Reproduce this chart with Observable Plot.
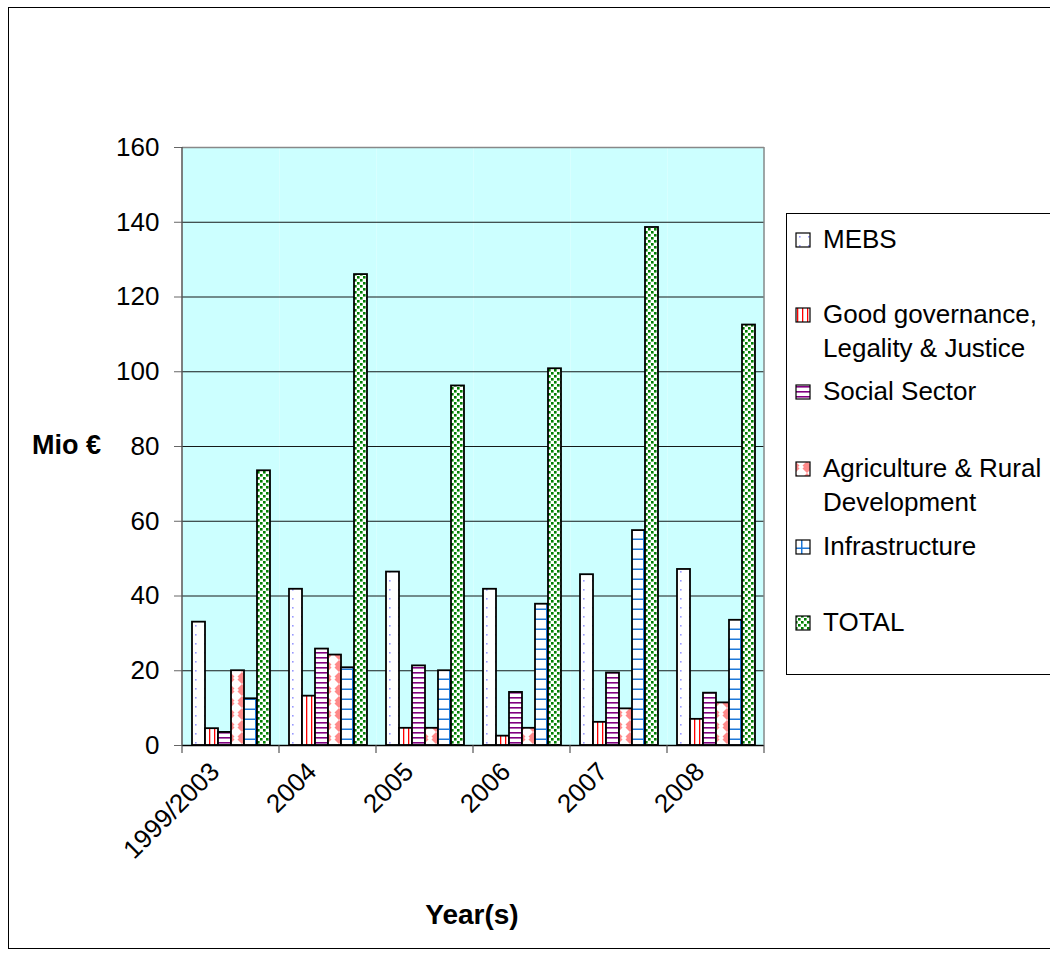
<!DOCTYPE html>
<html>
<head>
<meta charset="utf-8">
<script src="https://cdn.jsdelivr.net/npm/d3@7"></script>
<script src="https://cdn.jsdelivr.net/npm/@observablehq/plot@0.6"></script>
<style>
  html, body { margin: 0; padding: 0; background: #fff; }
  #wrap { position: relative; width: 1050px; height: 958px; overflow: hidden; font-family: "Liberation Sans", Arial, sans-serif; }
  #outer { position: absolute; left: 8px; top: 7px; width: 1100px; height: 942px; border: 1px solid #000; box-sizing: border-box; }
  #chart { position: absolute; left: 0; top: 0; }
  #legend { position: absolute; left: 786px; top: 213px; width: 300px; height: 462px; border: 1px solid #000; box-sizing: border-box; background: #fff; }
  .item { position: absolute; left: 8px; font-size: 26px; line-height: 34px; color: #000; white-space: nowrap; }
  .item svg { position: absolute; left: 0; top: 10px; }
  .item span { display: block; margin-left: 28px; }
  .ylab { position: absolute; left: 32px; top: 430px; font-size: 27px; font-weight: bold; }
  .xlab { position: absolute; left: 372px; width: 200px; text-align: center; top: 899px; font-size: 28px; font-weight: bold; }
</style>
</head>
<body>
<div id="wrap">
  <div id="outer"></div>
  <div id="chart"></div>
  <div id="legend"></div>
  <div class="ylab">Mio €</div>
  <div class="xlab">Year(s)</div>
</div>
<script>
// ---- data ----
const years = ["1999/2003", "2004", "2005", "2006", "2007", "2008"];
const series = ["MEBS", "Good governance, Legality & Justice", "Social Sector", "Agriculture & Rural Development", "Infrastructure", "TOTAL"];
const legendLines = [["MEBS"], ["Good governance,", "Legality & Justice"], ["Social Sector"], ["Agriculture & Rural", "Development"], ["Infrastructure"], ["TOTAL"]];
const mebs    = [33.0, 41.8, 46.4, 41.8, 45.7, 47.1];
const goodGov = [4.5, 13.2, 4.6, 2.5, 6.2, 7.0];
const social  = [3.5, 25.8, 21.3, 14.2, 19.4, 14.0];
const agri    = [20.0, 24.2, 4.6, 4.6, 9.8, 11.4];
const infra   = [12.5, 20.8, 20.0, 37.8, 57.5, 33.5];
const total   = [73.5, 126.0, 96.2, 100.8, 138.6, 112.5];
const yTicks  = [0, 20, 40, 60, 80, 100, 120, 140, 160];
const patternIds = ["p-mebs", "p-gg", "p-soc", "p-agri", "p-infra", "p-total"];

const valuesBySeries = [mebs, goodGov, social, agri, infra, total];
const data = [];
years.forEach((yr, i) => series.forEach((s, j) => data.push({year: yr, series: s, value: valuesBySeries[j][i]})));

const plot = Plot.plot({
  width: 1050,
  height: 958,
  marginLeft: 180,
  marginRight: 284,
  marginTop: 147,
  marginBottom: 213,
  style: {fontFamily: "Liberation Sans, Arial, sans-serif", fontSize: "26px", background: "transparent", overflow: "visible"},
  fx: {domain: years, padding: 0, label: null},
  x: {domain: series, paddingInner: 0, paddingOuter: 0.645, axis: null},
  y: {domain: [0, 160], label: null},
  color: {type: "ordinal", domain: series, range: patternIds.map(id => `url(#${id})`)},
  marks: [
    Plot.frame({fill: "#ccffff", stroke: null}),
    Plot.gridY(yTicks, {stroke: "#000", strokeOpacity: 0.9}),
    Plot.ruleY([160], {stroke: "#888", strokeWidth: 1.5}),
    Plot.barY(data, {fx: "year", x: "series", y: "value", fill: "series", stroke: "#000", strokeWidth: 1.8}),
    Plot.ruleY([0], {stroke: "#000", strokeWidth: 1.5}),
    Plot.axisY({ticks: yTicks, tickSize: 8, tickPadding: 15, fontSize: 26, label: null, stroke: "#666"}),
    Plot.axisFx({anchor: "bottom", tickSize: 0, tickPadding: 0, tickRotate: -45, fontSize: 26, label: null, dx: -16, dy: 22})
  ]
});
document.getElementById("chart").appendChild(plot);

// ---- patterns ----
const svg = d3.select(plot);
const defs = svg.insert("defs", ":first-child");
function pat(id, w, h, draw) {
  const p = defs.append("pattern").attr("id", id).attr("patternUnits", "userSpaceOnUse").attr("width", w).attr("height", h);
  p.append("rect").attr("width", w).attr("height", h).attr("fill", "#fff");
  draw(p);
}
pat("p-mebs", 9, 9, p => p.append("rect").attr("x", 4).attr("y", 4).attr("width", 1.6).attr("height", 1.6).attr("fill", "#9a9aff"));
pat("p-gg", 5, 5, p => p.append("rect").attr("x", 2).attr("y", 0).attr("width", 1.3).attr("height", 5).attr("fill", "#ff0000"));
pat("p-soc", 6, 5, p => p.append("rect").attr("x", 0).attr("y", 2).attr("width", 6).attr("height", 1.6).attr("fill", "#800080"));
pat("p-agri", 12, 12, p => {
  p.append("path").attr("d", "M0,0 L6,6 L0,12 Z M12,0 L6,6 L12,12 Z").attr("fill", "#ff8a8a");
  p.append("path").attr("d", "M6,3 L9,6 L6,9 L3,6 Z").attr("fill", "#fff");
});
pat("p-infra", 13, 10, p => {
  p.append("rect").attr("x", 6).attr("y", 0).attr("width", 1.5).attr("height", 10).attr("fill", "#1e78d8");
  p.append("rect").attr("x", 0).attr("y", 8.5).attr("width", 13).attr("height", 1.5).attr("fill", "#1e78d8");
});
pat("p-total", 6, 6, p => {
  p.append("rect").attr("x", 0).attr("y", 0).attr("width", 2.6).attr("height", 2.6).attr("fill", "#008000");
  p.append("rect").attr("x", 3).attr("y", 3).attr("width", 2.6).attr("height", 2.6).attr("fill", "#008000");
});

// ---- axis lines & group boundary ticks from the library's scales ----
const fx = plot.scale("fx"), y = plot.scale("y");
const bounds = years.map(v => fx.apply(v)).concat([fx.apply(years[years.length - 1]) + fx.bandwidth]);
const y0 = y.apply(0), yTop = y.apply(160);
const g = svg.append("g");
g.append("line").attr("x1", bounds[0]).attr("x2", bounds[0]).attr("y1", yTop).attr("y2", y0).attr("stroke", "#555").attr("stroke-width", 1.5);
g.append("line").attr("x1", bounds[bounds.length - 1]).attr("x2", bounds[bounds.length - 1]).attr("y1", yTop).attr("y2", y0).attr("stroke", "#888").attr("stroke-width", 1.5);
bounds.forEach(b => g.append("line").attr("x1", b).attr("x2", b).attr("y1", y0).attr("y2", y0 + 8).attr("stroke", "#555").attr("stroke-width", 1.2));

// ---- legend ----
const legend = document.getElementById("legend");
const tops = [8, 83, 160, 237, 315, 391];
series.forEach((s, i) => {
  const div = document.createElement("div");
  div.className = "item";
  div.style.top = tops[i] + "px";
  div.innerHTML = `<svg width="16" height="16"><rect x="1" y="1" width="14" height="14" fill="url(#${patternIds[i]})" stroke="#000" stroke-width="1.2"/></svg><span>${legendLines[i].join("<br>")}</span>`;
  legend.appendChild(div);
});
</script>
</body>
</html>
